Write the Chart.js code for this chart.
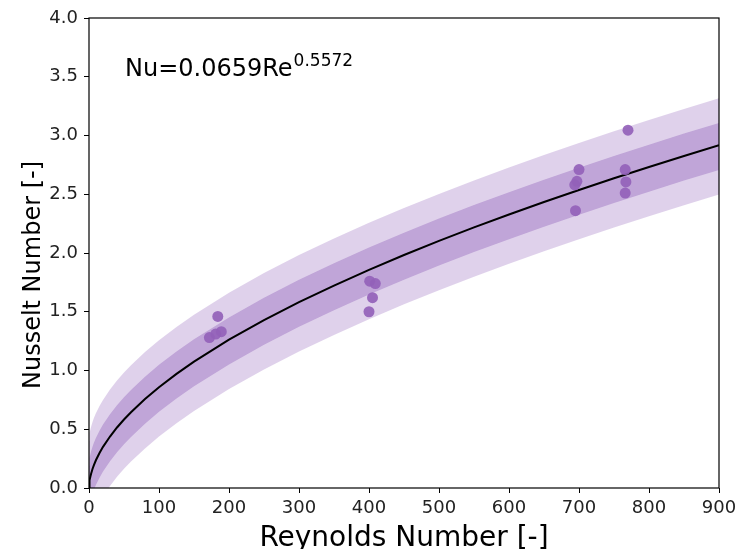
<!DOCTYPE html>
<html>
<head>
<meta charset="utf-8">
<script src="https://cdn.jsdelivr.net/npm/chart.js@4"></script>
<style>
  body { margin: 0; background: #fff; }
  #wrap { width: 737px; height: 549px; }
</style>
</head>
<body>
<div id="wrap"><canvas id="myChart" width="737" height="549"></canvas></div>
<script>
const reSamples = [0, 0.5, 1, 2, 3, 5, 7, 10, 15, 20, 30, 40, 50, 60, 80, 100, 125, 150, 200, 250, 300, 350, 400, 450, 500, 550, 600, 650, 700, 750, 800, 850, 900];
const nuFit = [0, 0.045, 0.066, 0.097, 0.122, 0.162, 0.195, 0.238, 0.298, 0.350, 0.438, 0.515, 0.583, 0.645, 0.757, 0.858, 0.971, 1.075, 1.262, 1.429, 1.582, 1.723, 1.857, 1.983, 2.103, 2.218, 2.328, 2.434, 2.536, 2.636, 2.732, 2.826, 2.917];
// inner band
const nuInnerUp = [0.19, 0.235, 0.256, 0.287, 0.312, 0.352, 0.385, 0.428, 0.488, 0.540, 0.628, 0.705, 0.773, 0.835, 0.947, 1.048, 1.161, 1.265, 1.452, 1.619, 1.772, 1.913, 2.047, 2.173, 2.293, 2.408, 2.518, 2.624, 2.726, 2.826, 2.922, 3.016, 3.107];
const nuInnerLow = [-0.21, -0.165, -0.144, -0.113, -0.088, -0.048, -0.015, 0.028, 0.088, 0.140, 0.228, 0.305, 0.373, 0.435, 0.547, 0.648, 0.761, 0.865, 1.052, 1.219, 1.372, 1.513, 1.647, 1.773, 1.893, 2.008, 2.118, 2.224, 2.326, 2.426, 2.522, 2.616, 2.707];
// outer band
const nuOuterUp = [0.40, 0.445, 0.466, 0.497, 0.522, 0.562, 0.595, 0.638, 0.698, 0.750, 0.838, 0.915, 0.983, 1.045, 1.157, 1.258, 1.371, 1.475, 1.662, 1.829, 1.982, 2.123, 2.257, 2.383, 2.503, 2.618, 2.728, 2.834, 2.936, 3.036, 3.132, 3.226, 3.317];
const nuOuterLow = [-0.42, -0.375, -0.354, -0.323, -0.298, -0.258, -0.225, -0.182, -0.122, -0.070, 0.018, 0.095, 0.163, 0.225, 0.337, 0.438, 0.551, 0.655, 0.842, 1.009, 1.162, 1.303, 1.437, 1.563, 1.683, 1.798, 1.908, 2.014, 2.116, 2.216, 2.312, 2.406, 2.497];
// measured points
const expRe = [172, 181, 189, 184, 401, 409, 405, 400, 700, 697, 694, 695, 766, 767, 766, 770];
const expNu = [1.28, 1.31, 1.33, 1.46, 1.76, 1.74, 1.62, 1.50, 2.71, 2.61, 2.58, 2.36, 2.71, 2.605, 2.51, 3.045];

const xTicks = [0, 100, 200, 300, 400, 500, 600, 700, 800, 900];
const yTicks = [0, 0.5, 1, 1.5, 2, 2.5, 3, 3.5, 4];

const pts = (xs, ys) => xs.map((x, i) => ({ x: x, y: ys[i] }));
const font = 'DejaVu Sans';

function lineSet(data, extra) {
  return Object.assign({
    type: 'line', data: data, showLine: true, pointRadius: 0, borderWidth: 0,
    borderColor: 'rgba(0,0,0,0)', tension: 0, fill: false
  }, extra);
}

const decor = {
  id: 'decor',
  afterDraw(chart) {
    const c = chart.ctx;
    const a = chart.chartArea;
    c.save();
    c.strokeStyle = '#000';
    c.lineWidth = 1.2;
    c.strokeRect(a.left, a.top, a.right - a.left, a.bottom - a.top);
    c.fillStyle = '#000';
    // annotation
    c.font = '24px ' + font;
    c.textBaseline = 'alphabetic';
    c.textAlign = 'left';
    const t = 'Nu=0.0659Re';
    c.fillText(t, 125, 76);
    const w = c.measureText(t).width;
    c.font = '17px ' + font;
    c.fillText('0.5572', 125 + w + 1, 66);
    // axis titles
    c.font = '28px ' + font;
    c.textAlign = 'center';
    c.fillText('Reynolds Number [-]', (a.left + a.right) / 2, 546);
    c.font = '24px ' + font;
    c.translate(40, 275);
    c.rotate(-Math.PI / 2);
    c.fillText('Nusselt Number [-]', 0, 0);
    c.restore();
  }
};

const ctx = document.getElementById('myChart').getContext('2d');
const myChart = new Chart(ctx, {
  type: 'scatter',
  data: {
    datasets: [
      {
        type: 'scatter',
        data: pts(expRe, expNu),
        order: 0,
        pointRadius: 5.5,
        pointBorderWidth: 0,
        backgroundColor: 'rgba(148, 98, 186, 0.92)',
        borderColor: 'rgba(148, 98, 186, 0.92)'
      },
      lineSet(pts(reSamples, nuFit), { order: 1, borderColor: '#000', borderWidth: 2 }),
      lineSet(pts(reSamples, nuInnerUp), { order: 2, fill: '+1', backgroundColor: 'rgba(148, 103, 189, 0.42)' }),
      lineSet(pts(reSamples, nuInnerLow), { order: 3 }),
      lineSet(pts(reSamples, nuOuterUp), { order: 4, fill: '+1', backgroundColor: 'rgba(148, 103, 189, 0.3)' }),
      lineSet(pts(reSamples, nuOuterLow), { order: 5 })
    ]
  },
  options: {
    responsive: false,
    animation: false,
    layout: { autoPadding: false, padding: { left: 0, right: 18, top: 18, bottom: 0 } },
    plugins: { legend: { display: false }, tooltip: { enabled: false } },
    scales: {
      x: {
        type: 'linear', min: 0, max: 900,
        afterFit: (s) => { s.height = 61; s.paddingLeft = 0; s.paddingRight = 0; },
        afterBuildTicks: (s) => { s.ticks = xTicks.map(v => ({ value: v })); },
        grid: { drawOnChartArea: false, color: '#000', tickLength: 5 },
        border: { display: false },
        ticks: { color: '#222', font: { family: font, size: 18 }, padding: 5, maxRotation: 0 }
      },
      y: {
        type: 'linear', min: 0, max: 4,
        afterFit: (s) => { s.width = 89; s.paddingTop = 0; s.paddingBottom = 0; },
        afterBuildTicks: (s) => { s.ticks = yTicks.map(v => ({ value: v })); },
        grid: { drawOnChartArea: false, color: '#000', tickLength: 5 },
        border: { display: false },
        ticks: { color: '#222', font: { family: font, size: 18 }, padding: 6, callback: (v) => v.toFixed(1) }
      }
    }
  },
  plugins: [decor]
});
</script>
</body>
</html>
